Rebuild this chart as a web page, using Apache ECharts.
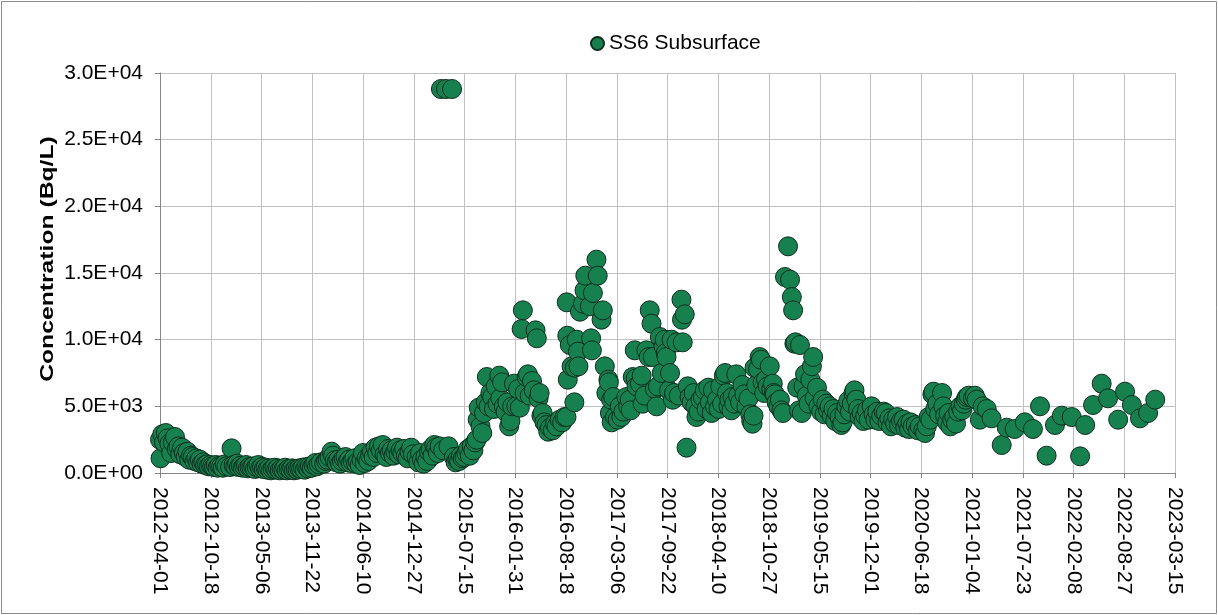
<!DOCTYPE html>
<html>
<head>
<meta charset="utf-8">
<script src="https://cdn.jsdelivr.net/npm/echarts@6/dist/echarts.min.js"></script>
<style>
html,body{margin:0;padding:0;background:#fff;}
#chart{width:1218px;height:615px;}
</style>
</head>
<body>
<div id="chart"></div>
<script>
// ---- Data (sample date, concentration Bq/L) ----
const seriesName = 'SS6 Subsurface';
const yAxisTitle = 'Concentration (Bq/L)';
const axisStartDate = '2012-04-01';
const axisDayInterval = 200;
const axisDaySpan = 4000;
const yTicks = [0, 5000, 10000, 15000, 20000, 25000, 30000];

const data2012 = [
 ['2012-04-01',2500],['2012-04-03',1100],['2012-04-10',2900],['2012-04-17',2300],['2012-04-24',3000],
 ['2012-05-01',2600],['2012-05-08',2200],['2012-05-15',1500],['2012-05-22',2300],['2012-05-30',2700],
 ['2012-06-06',1800],['2012-06-13',2000],['2012-06-20',1400],['2012-06-27',1900],['2012-07-04',1500],
 ['2012-07-11',1200],['2012-07-18',1600],['2012-07-25',1000],['2012-08-01',1300],['2012-08-08',1200],
 ['2012-08-15',900],['2012-08-22',1100],['2012-08-29',800],['2012-09-05',1000],['2012-09-12',700],
 ['2012-09-19',800],['2012-09-26',600],['2012-10-03',650],['2012-10-10',500],['2012-10-17',600],
 ['2012-10-24',500],['2012-10-31',450],['2012-11-07',600],['2012-11-14',400],['2012-11-21',550],
 ['2012-11-28',500],['2012-12-05',400],['2012-12-12',650],['2012-12-19',500]
];
const data2013 = [
 ['2013-01-02',450],['2013-01-08',1850],['2013-01-16',600],['2013-01-23',500],['2013-01-30',700],
 ['2013-02-06',450],['2013-02-13',550],['2013-02-20',400],['2013-02-27',500],['2013-03-06',600],
 ['2013-03-13',350],['2013-03-20',450],['2013-03-27',400],['2013-04-03',500],['2013-04-10',300],
 ['2013-04-17',450],['2013-04-24',600],['2013-05-01',350],['2013-05-08',450],['2013-05-15',300],
 ['2013-05-22',400],['2013-05-29',250],['2013-06-05',350],['2013-06-12',200],['2013-06-19',300],
 ['2013-06-26',400],['2013-07-03',250],['2013-07-10',350],['2013-07-17',200],['2013-07-24',300],
 ['2013-07-31',250],['2013-08-07',400],['2013-08-14',200],['2013-08-21',300],['2013-08-28',250],
 ['2013-09-04',350],['2013-09-11',200],['2013-09-18',300],['2013-09-25',250],['2013-10-02',350],
 ['2013-10-09',300],['2013-10-16',400],['2013-10-23',250],['2013-10-30',450],['2013-11-06',350],
 ['2013-11-13',500],['2013-11-20',400],['2013-11-27',600],['2013-12-04',750],['2013-12-11',500],
 ['2013-12-18',650],['2013-12-26',800]
];
const data2014 = [
 ['2014-01-08',700],['2014-01-15',900],['2014-01-22',1000],['2014-01-29',1200],['2014-02-06',1600],
 ['2014-02-12',1300],['2014-02-19',950],['2014-02-26',800],['2014-03-05',1000],['2014-03-12',700],
 ['2014-03-19',900],['2014-03-26',1100],['2014-04-02',1200],['2014-04-09',800],['2014-04-16',1000],
 ['2014-04-23',750],['2014-04-30',900],['2014-05-07',1100],['2014-05-14',700],['2014-05-21',850],
 ['2014-05-28',600],['2014-06-04',1000],['2014-06-10',1500],['2014-06-17',750],['2014-06-24',1100],
 ['2014-07-01',900],['2014-07-08',1300],['2014-07-15',1600],['2014-07-22',1200],['2014-07-29',1900],
 ['2014-08-05',1500],['2014-08-12',2000],['2014-08-19',1700],['2014-08-27',2100],['2014-09-03',1400],
 ['2014-09-10',1200],['2014-09-17',1800],['2014-09-24',1500],['2014-10-01',1700],['2014-10-08',1300],
 ['2014-10-15',1600],['2014-10-22',1900],['2014-10-29',1400],['2014-11-05',1700],['2014-11-12',1500],
 ['2014-11-19',1800],['2014-11-26',1300],['2014-12-03',1100],['2014-12-10',1600],['2014-12-17',1900],
 ['2014-12-24',1400]
];
const data2015 = [
 ['2015-01-07',1200],['2015-01-14',800],['2015-01-21',1500],['2015-01-28',1000],['2015-02-04',700],
 ['2015-02-11',1200],['2015-02-18',900],['2015-02-25',1600],['2015-03-04',1800],['2015-03-11',1300],
 ['2015-03-18',2100],['2015-03-25',1900],['2015-04-01',1500],['2015-04-08',2000],['2015-04-13',28800],
 ['2015-04-22',1700],['2015-05-03',28800],['2015-05-13',2000],['2015-05-27',28800],['2015-06-03',1200],
 ['2015-06-10',800],['2015-06-17',1000],['2015-06-24',900],['2015-07-01',1300],['2015-07-08',1100],
 ['2015-07-15',1200],['2015-07-22',1500],['2015-07-29',1800],['2015-08-05',1300],['2015-08-12',2000],
 ['2015-08-19',1700],['2015-08-26',2300],['2015-09-01',2500],['2015-09-05',4000],['2015-09-09',4900],
 ['2015-09-16',3500],['2015-09-23',3000],['2015-09-30',4500],['2015-10-07',5300],['2015-10-11',7200],
 ['2015-10-18',5000],['2015-10-25',6000],['2015-11-01',5700],['2015-11-08',4800],['2015-11-15',6500],
 ['2015-11-22',5200],['2015-11-29',7300],['2015-12-03',5600],['2015-12-10',6800],['2015-12-17',5000],
 ['2015-12-24',4600],['2015-12-31',5300]
];
const data2016 = [
 ['2016-01-07',3500],['2016-01-12',3900],['2016-01-19',5000],['2016-01-26',6700],['2016-02-04',5000],
 ['2016-02-11',6300],['2016-02-18',4900],['2016-02-25',10800],['2016-03-01',12200],['2016-03-08',6000],
 ['2016-03-16',7200],['2016-03-21',7400],['2016-03-28',5800],['2016-04-06',6900],['2016-04-13',6200],
 ['2016-04-20',10700],['2016-04-25',10100],['2016-05-02',5600],['2016-05-06',6000],['2016-05-13',4300],
 ['2016-05-18',4500],['2016-05-25',3800],['2016-06-02',3600],['2016-06-09',3100],['2016-06-16',3400],
 ['2016-06-27',3200],['2016-07-05',3700],['2016-07-12',3500],['2016-07-24',4000],['2016-08-03',3800],
 ['2016-08-12',4200],['2016-08-20',4200],['2016-08-21',12800],['2016-08-23',10300],['2016-08-25',7000],
 ['2016-09-02',9600],['2016-09-09',8000],['2016-09-20',5300],['2016-09-22',7900],['2016-09-29',10000],
 ['2016-10-04',9100],['2016-10-06',8000],['2016-10-12',12100],['2016-10-24',12700],['2016-10-30',13700],
 ['2016-11-02',14800],['2016-11-20',12500],['2016-11-25',10100],['2016-11-28',9200],['2016-12-02',13500],
 ['2016-12-16',16000],['2016-12-21',14800]
];
const data2017 = [
 ['2017-01-05',11500],['2017-01-10',12200],['2017-01-18',8000],['2017-01-24',6000],['2017-02-01',7000],
 ['2017-02-03',6800],['2017-02-07',4500],['2017-02-12',5500],['2017-02-14',3800],['2017-02-20',5700],
 ['2017-02-27',4200],['2017-03-10',4000],['2017-03-18',5000],['2017-03-24',4200],['2017-04-01',4600],
 ['2017-04-13',5700],['2017-04-20',5000],['2017-04-26',5500],['2017-04-30',4700],['2017-05-08',7200],
 ['2017-05-16',9200],['2017-05-20',7100],['2017-05-23',6500],['2017-06-05',6700],['2017-06-12',7300],
 ['2017-06-16',5200],['2017-06-24',5800],['2017-07-01',9200],['2017-07-10',8700],['2017-07-14',12200],
 ['2017-07-21',11200],['2017-07-26',8700],['2017-08-03',6300],['2017-08-10',5000],['2017-08-15',6500],
 ['2017-08-23',10200],['2017-08-30',7500],['2017-09-06',9500],['2017-09-11',10000],['2017-09-15',9000],
 ['2017-09-18',8700],['2017-09-28',6200],['2017-10-02',7500],['2017-10-08',10000],['2017-10-13',5500],
 ['2017-10-18',6000],['2017-10-28',9800],['2017-11-05',5800],['2017-11-16',13000],['2017-11-18',11500],
 ['2017-11-21',9800],['2017-11-29',11900],['2017-12-06',1900],['2017-12-11',6500],['2017-12-18',5700],
 ['2017-12-26',5300]
];
const data2018 = [
 ['2018-01-03',6000],['2018-01-10',5000],['2018-01-14',4200],['2018-01-22',4600],['2018-01-30',5500],
 ['2018-02-08',5700],['2018-02-16',6200],['2018-02-23',4800],['2018-03-02',6400],['2018-03-08',5300],
 ['2018-03-15',4500],['2018-03-20',6200],['2018-03-28',5000],['2018-04-05',5500],['2018-04-12',4800],
 ['2018-04-18',6500],['2018-04-25',5200],['2018-05-02',7300],['2018-05-07',7500],['2018-05-14',6000],
 ['2018-05-20',5000],['2018-05-24',5500],['2018-06-01',4700],['2018-06-05',5700],['2018-06-12',5200],
 ['2018-06-20',7400],['2018-06-27',5800],['2018-07-05',5300],['2018-07-14',6600],['2018-07-22',5900],
 ['2018-07-30',5000],['2018-08-07',5600],['2018-08-14',4400],['2018-08-18',3900],['2018-08-23',3700],
 ['2018-08-27',4300],['2018-08-31',7900],['2018-09-07',6600],['2018-09-14',7800],['2018-09-20',8700],
 ['2018-09-25',8500],['2018-10-02',6800],['2018-10-08',6000],['2018-10-15',7000],['2018-10-22',6500],
 ['2018-10-30',8000],['2018-11-05',6300],['2018-11-11',6700],['2018-11-15',6000],['2018-11-19',5900],
 ['2018-11-26',5300],['2018-12-03',5000],['2018-12-09',5500],['2018-12-15',4700],['2018-12-21',4500],
 ['2018-12-29',14700]
];
const data2019 = [
 ['2019-01-10',17000],['2019-01-18',14500],['2019-01-25',13200],['2019-01-30',12200],['2019-02-04',9700],
 ['2019-02-08',9800],['2019-02-15',6400],['2019-02-22',4700],['2019-02-26',9600],['2019-03-05',4500],
 ['2019-03-12',6500],['2019-03-18',7400],['2019-03-25',5800],['2019-04-01',5200],['2019-04-08',7000],
 ['2019-04-14',8000],['2019-04-19',8700],['2019-04-25',5600],['2019-05-04',6400],['2019-05-10',5000],
 ['2019-05-20',4600],['2019-05-27',5500],['2019-06-03',4400],['2019-06-10',5200],['2019-06-17',4700],
 ['2019-06-23',5000],['2019-07-01',4300],['2019-07-08',4800],['2019-07-15',3900],['2019-07-22',4500],
 ['2019-08-01',4200],['2019-08-08',3600],['2019-08-13',3800],['2019-08-20',4400],['2019-08-28',5000],
 ['2019-09-04',5400],['2019-09-11',4600],['2019-09-18',5200],['2019-09-25',6000],['2019-09-29',6200],
 ['2019-10-06',5500],['2019-10-13',4800],['2019-10-20',4200],['2019-10-27',4500],['2019-11-03',3900],
 ['2019-11-10',4300],['2019-11-17',4700],['2019-11-24',4000],['2019-12-05',5000],['2019-12-13',4400],
 ['2019-12-20',4000],['2019-12-28',4600]
];
const data2020 = [
 ['2020-01-05',3900],['2020-01-12',4300],['2020-01-22',4600],['2020-01-30',4500],['2020-02-06',3800],
 ['2020-02-13',4100],['2020-02-20',3500],['2020-02-28',4000],['2020-03-07',3700],['2020-03-15',4200],
 ['2020-03-22',3600],['2020-03-30',3900],['2020-04-09',4000],['2020-04-16',3400],['2020-04-24',3700],
 ['2020-05-01',3300],['2020-05-07',3800],['2020-05-15',3500],['2020-05-27',3600],['2020-06-05',3200],
 ['2020-06-12',3500],['2020-06-26',3200],['2020-07-03',3000],['2020-07-10',3500],['2020-07-17',4200],
 ['2020-07-24',4000],['2020-08-01',5900],['2020-08-05',6100],['2020-08-12',4800],['2020-08-20',5200],
 ['2020-08-27',4400],['2020-09-08',6000],['2020-09-13',5000],['2020-09-20',4300],['2020-09-28',3800],
 ['2020-10-04',4500],['2020-10-11',3500],['2020-10-18',4000],['2020-10-26',4200],['2020-11-02',3700],
 ['2020-11-10',4600],['2020-11-19',5000],['2020-11-26',4700],['2020-12-03',5200],['2020-12-10',5500],
 ['2020-12-15',5700],['2020-12-22',5800]
];
const data2021to2022 = [
 ['2021-01-08',5600],['2021-01-15',5800],['2021-01-22',5500],['2021-02-04',4000],['2021-02-15',5000],
 ['2021-03-03',4800],['2021-03-22',4100],['2021-05-01',2100],['2021-05-21',3400],['2021-06-21',3300],
 ['2021-07-31',3800],['2021-09-01',3300],['2021-09-29',5000],['2021-10-25',1300],['2021-11-27',3600],
 ['2021-12-24',4300],['2022-02-01',4200],['2022-03-06',1250],['2022-03-26',3600],['2022-04-26',5100],
 ['2022-05-30',6700],['2022-06-24',5600],['2022-08-03',4000],['2022-08-30',6100],['2022-09-26',5100],
 ['2022-10-28',4100],['2022-11-29',4500],['2022-12-27',5500]
];

// ---- Build ----
const DAY = 86400000;
const t0 = Date.parse(axisStartDate + 'T00:00:00Z');
const allData = [].concat(data2012, data2013, data2014, data2015, data2016, data2017,
  data2018, data2019, data2020, data2021to2022);
const points = allData.map(d => [(Date.parse(d[0] + 'T00:00:00Z') - t0) / DAY, d[1], d[0]]);

function sci(v) {
  if (v === 0) return '0.0E+00';
  const e = Math.floor(Math.log10(Math.abs(v)));
  const m = v / Math.pow(10, e);
  const sign = e < 0 ? '-' : '+';
  const ae = Math.abs(e);
  return m.toFixed(1) + 'E' + sign + (ae < 10 ? '0' + ae : '' + ae);
}
function dayLabel(v) {
  return new Date(t0 + v * DAY).toISOString().slice(0, 10);
}

const FONT = '"Liberation Sans", Arial, sans-serif';
const chart = echarts.init(document.getElementById('chart'), null, {renderer: 'canvas'});
chart.setOption({
  animation: false,
  backgroundColor: '#ffffff',
  textStyle: {fontFamily: FONT},
  graphic: [{
    type: 'rect', silent: true, z: -10,
    shape: {x: 1.5, y: 1.5, width: 1215, height: 612},
    style: {fill: 'none', stroke: '#8a8a8a', lineWidth: 1}
  }, {
    type: 'text', silent: true,
    x: 48, y: 259, rotation: Math.PI / 2, scaleX: 1.3, scaleY: 1,
    style: {
      text: yAxisTitle, fontFamily: FONT, fontSize: 19, fontWeight: 'bold',
      fill: '#000', align: 'center', verticalAlign: 'middle'
    }
  }],
  legend: {
    data: [seriesName],
    left: 585, top: 28,
    icon: 'circle', itemWidth: 13, itemHeight: 13, itemGap: 5,
    textStyle: {fontFamily: FONT, fontSize: 21, color: '#000'}
  },
  grid: {left: 160, right: 43, top: 73, bottom: 142, containLabel: false},
  xAxis: {
    type: 'value',
    min: 0, max: axisDaySpan, interval: axisDayInterval,
    axisLine: {show: true, onZero: false, lineStyle: {color: '#868686', width: 1}},
    axisTick: {show: true, inside: false, length: 5, lineStyle: {color: '#868686'}},
    splitLine: {show: true, lineStyle: {color: '#c0c0c0', width: 1}},
    axisLabel: {
      rotate: -90, margin: 14, fontSize: 21, color: '#000', fontFamily: FONT,
      formatter: dayLabel, showMinLabel: true, showMaxLabel: true
    }
  },
  yAxis: {
    type: 'value',
    min: yTicks[0], max: yTicks[yTicks.length - 1], interval: yTicks[1] - yTicks[0],
    axisLine: {show: true, lineStyle: {color: '#868686', width: 1}},
    axisTick: {show: true, inside: false, length: 5, lineStyle: {color: '#868686'}},
    splitLine: {show: true, lineStyle: {color: '#c0c0c0', width: 1}},
    axisLabel: {margin: 17, fontSize: 21, color: '#000', fontFamily: FONT, formatter: sci}
  },
  series: [{
    name: seriesName,
    type: 'scatter',
    symbol: 'circle',
    symbolSize: 19,
    data: points,
    itemStyle: {color: '#17804f', borderColor: '#0e2e1e', borderWidth: 1, opacity: 1}
  }]
});
</script>
</body>
</html>
